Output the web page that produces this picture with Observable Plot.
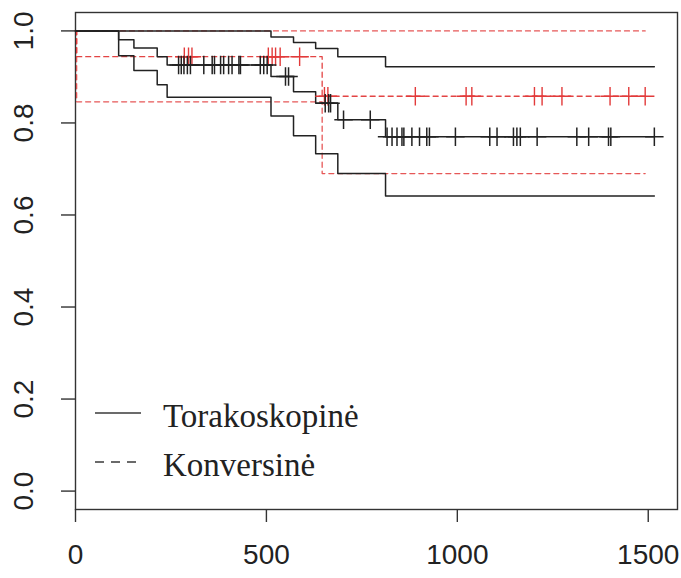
<!DOCTYPE html>
<html>
<head>
<meta charset="utf-8">
<script src="https://cdn.jsdelivr.net/npm/d3@7"></script>
<script src="https://cdn.jsdelivr.net/npm/@observablehq/plot@0.6"></script>
<style>
  html, body { margin: 0; padding: 0; background: #fff; }
  #chart svg { display: block; }
</style>
</head>
<body>
<div id="chart"></div>
<script>
// ---- Data ----
// Torakoskopinė (solid black): event times, KM estimate and 95% CI
const toraTimes = [0, 113, 153, 214, 240, 512, 571, 629, 687, 812];
const toraSurv  = [1, 0.981, 0.963, 0.944, 0.926, 0.901, 0.868, 0.843, 0.807, 0.770];
const toraUpper = [1, 1, 1, 1, 1, 0.987, 0.975, 0.962, 0.944, 0.922];
const toraLower = [1, 0.946, 0.914, 0.883, 0.856, 0.815, 0.772, 0.733, 0.690, 0.641];
const toraEnd = 1516;
const toraCensor = [270, 277, 284, 293, 301, 336, 358, 364, 380, 388, 401, 410, 428, 432, 484, 493, 502,
  550, 558, 654, 663, 668, 702, 772,
  816, 829, 842, 855, 860, 881, 901, 920, 927, 995, 1085, 1104, 1147, 1156, 1165, 1209, 1313, 1344, 1396, 1402, 1516];

// Konversinė (dashed red)
const konvTimes = [0, 3, 646];
const konvSurv  = [1, 0.944, 0.858];
const konvUpper = [1, 1, 1];
const konvLower = [1, 0.846, 0.690];
const konvEnd = 1492;
const konvCensor = [285, 296, 305, 505, 515, 524, 536, 587, 652, 661, 890, 1023, 1038, 1202, 1222, 1274, 1400, 1449, 1492];

const xTicks = [0, 500, 1000, 1500];
const yTicks = [0, 0.2, 0.4, 0.6, 0.8, 1.0];
const legendLabels = ["Torakoskopinė", "Konversinė"];

// ---- Build step series ----
function steps(times, values, end) {
  const pts = times.map((t, i) => ({t, s: values[i]}));
  pts.push({t: end, s: values[values.length - 1]});
  return pts;
}
function censorPts(times, values, cens) {
  return cens.map(c => {
    const i = d3.bisectRight(times, c) - 1;
    return {t: c, s: values[Math.max(0, i)]};
  });
}

const blackCol = "#222";
const redCol = "#e23a3a";

const toraLines = [toraSurv, toraUpper, toraLower].map(v => steps(toraTimes, v, toraEnd));
const konvLines = [konvSurv, konvUpper, konvLower].map(v => steps(konvTimes, v, konvEnd));

const xMax = Math.max(toraEnd, konvEnd) * 1.04;

const chart = Plot.plot({
  width: 681,
  height: 578,
  marginLeft: 75,
  marginRight: 4,
  marginTop: 12,
  marginBottom: 69,
  style: {fontFamily: "'Liberation Sans', Arial, sans-serif", fontSize: "28px", color: "#222", background: "#fff"},
  x: {domain: [0, xMax], label: null},
  y: {domain: [-0.04, 1.04], label: null},
  marks: [
    Plot.frame({stroke: "#333", strokeWidth: 1.4}),
    Plot.axisX({ticks: xTicks, tickSize: 13, tickPadding: 22, tickFormat: d => String(d), label: null, stroke: "#333", strokeWidth: 1.4}),
    Plot.axisY({ticks: yTicks, tickSize: 14, tickPadding: 29, tickRotate: -90, tickFormat: d3.format(".1f"), label: null, stroke: "#333", strokeWidth: 1.4}),
    ...konvLines.map((pts, i) => Plot.line(pts, {x: "t", y: "s", curve: "step-after", stroke: redCol, strokeWidth: 1.3, strokeDasharray: "5,4", strokeOpacity: i === 0 ? 0.95 : 0.85})),
    ...toraLines.map(pts => Plot.line(pts, {x: "t", y: "s", curve: "step-after", stroke: blackCol, strokeWidth: 1.5})),
    Plot.dot(censorPts(konvTimes, konvSurv, konvCensor), {x: "t", y: "s", symbol: "plus", r: 6, stroke: redCol, strokeWidth: 1.4}),
    Plot.dot(censorPts(toraTimes, toraSurv, toraCensor), {x: "t", y: "s", symbol: "plus", r: 6, stroke: blackCol, strokeWidth: 1.5})
  ]
});

document.getElementById("chart").appendChild(chart);

// ---- Legend (inside the plot, bottom-left) ----
const svg = d3.select(chart);
const lg = svg.append("g").attr("class", "legend").attr("text-anchor", "start");
const items = [
  {label: legendLabels[0], dash: null, y: 413},
  {label: legendLabels[1], dash: "9,7", y: 462}
];
items.forEach(it => {
  lg.append("line")
    .attr("x1", 95).attr("x2", 141)
    .attr("y1", it.y).attr("y2", it.y)
    .attr("stroke", "#3a3a3a").attr("stroke-width", 1.4)
    .attr("stroke-dasharray", it.dash);
  lg.append("text")
    .attr("x", 163).attr("y", it.y + 14)
    .attr("text-anchor", "start")
    .attr("font-family", "'Liberation Serif', 'Times New Roman', serif")
    .attr("font-size", 33)
    .attr("fill", "#222")
    .text(it.label);
});
</script>
</body>
</html>
